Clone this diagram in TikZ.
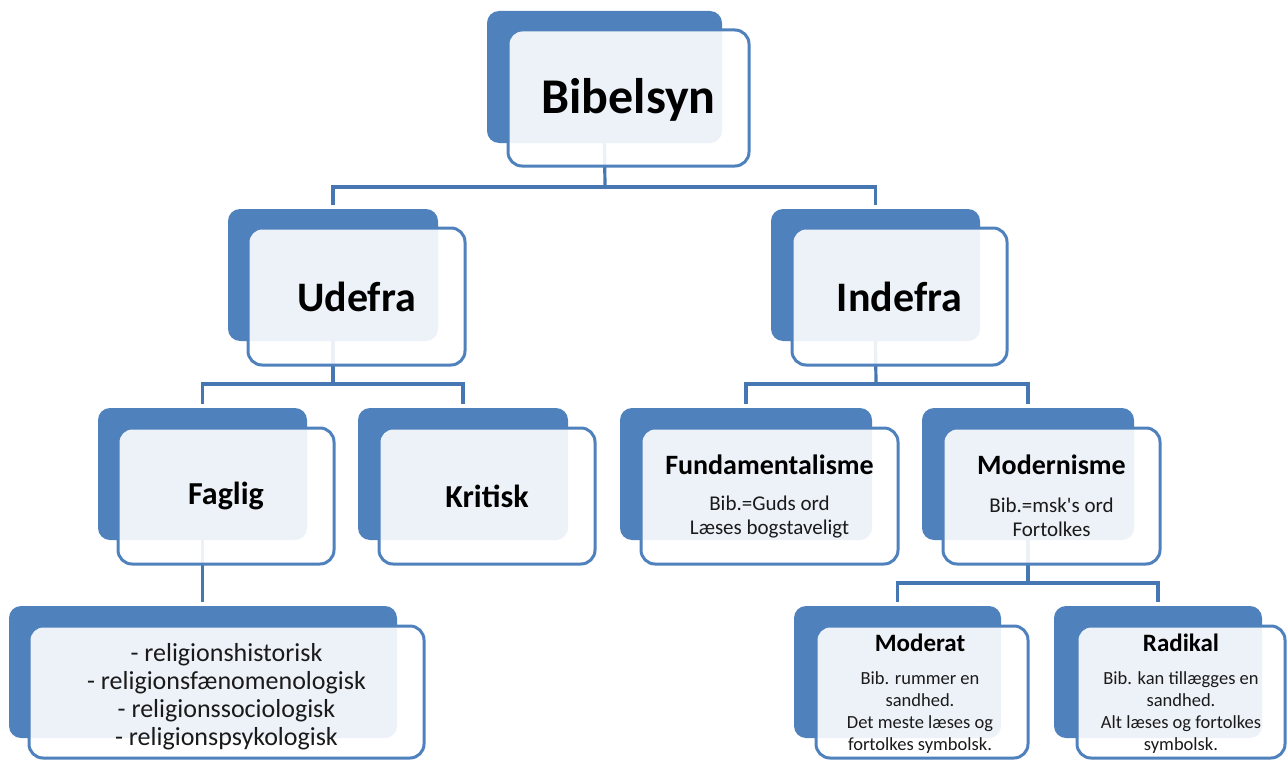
\documentclass[tikz,border=0pt]{standalone}
\usepackage{fontspec}
\setmainfont{Carlito}[Ligatures=TeXOff]
\usetikzlibrary{fit}
\definecolor{accent}{HTML}{4F81BD}
\definecolor{linec}{HTML}{4677B3}
\definecolor{bodytext}{HTML}{1A1A1A}
\tikzset{
  backbox/.style={fill=accent, draw=none, rounded corners=12pt, inner sep=0pt},
  frontbox/.style={fill=white, fill opacity=0.9, draw=accent, draw opacity=1, line width=3pt, rounded corners=14pt, inner sep=0pt},
  conn/.style={draw=linec, line width=3.2pt},
  bigtitle/.style={font=\fontsize{50}{60}\selectfont\bfseries, text=black, inner sep=0pt},
  midtitle/.style={font=\fontsize{42}{50}\selectfont\bfseries, text=black, inner sep=0pt},
  smalltitle/.style={font=\fontsize{32}{38}\selectfont\bfseries, text=black, inner sep=0pt},
  subtitle/.style={font=\fontsize{28}{32}\selectfont\bfseries, text=black, inner sep=0pt},
  leaftitle/.style={font=\fontsize{25}{30}\selectfont\bfseries, text=black, inner sep=0pt},
  bodyA/.style={font=\fontsize{21}{24}\selectfont, text=bodytext, align=center, inner sep=0pt},
  bodyL/.style={font=\fontsize{26}{28}\selectfont, text=bodytext, align=center, inner sep=0pt},
  bodyB/.style={font=\fontsize{18.5}{22}\selectfont, text=bodytext, align=center, inner sep=0pt},
}
\begin{document}
\begin{tikzpicture}[x=1pt,y=-1pt]
\useasboundingbox (0,0) rectangle (1288,760);
% back boxes
\node[backbox, fit={(487,11) (722,143)}] (B-b) {};
\node[backbox, fit={(228,209) (438,341)}] (U-b) {};
\node[backbox, fit={(771,209) (980,341)}] (I-b) {};
\node[backbox, fit={(98,408) (307,540)}] (F-b) {};
\node[backbox, fit={(358,408) (568,540)}] (K-b) {};
\node[backbox, fit={(620,408) (872,540)}] (Fu-b) {};
\node[backbox, fit={(922,408) (1134,540)}] (Mo-b) {};
\node[backbox, fit={(9,606) (397,738)}] (L-b) {};
\node[backbox, fit={(794,606) (1001,738)}] (Md-b) {};
\node[backbox, fit={(1054,606) (1262,738)}] (R-b) {};
% bus coordinates
\coordinate (busA) at (605,187);
\coordinate (busB) at (333,384);
\coordinate (busC) at (876,384);
\coordinate (busD) at (1028,583);
% connectors
\draw[conn] (B-b.south) -- (busA);
\draw[conn] ([yshift=4pt]U-b.north) |- (busA) -| ([yshift=4pt]I-b.north);
\draw[conn] (U-b.south) -- (busB);
\draw[conn] ([yshift=4pt]F-b.north) |- (busB) -| ([yshift=4pt]K-b.north);
\draw[conn] (I-b.south) -- (busC);
\draw[conn] ([yshift=4pt]Fu-b.north) |- (busC) -| ([yshift=4pt]Mo-b.north);
\draw[conn] (F-b.south) -- ([yshift=4pt]L-b.north -| F-b.south);
\draw[conn] (Mo-b.south) -- (busD);
\draw[conn] ([yshift=4pt]Md-b.north) |- (busD) -| ([yshift=4pt]R-b.north);
% front boxes
\node[frontbox, fit={(508,30) (749,166)}] (B-f) {};
\node[frontbox, fit={(248,228) (465,365)}] (U-f) {};
\node[frontbox, fit={(792,228) (1007,365)}] (I-f) {};
\node[frontbox, fit={(118,428) (334,564)}] (F-f) {};
\node[frontbox, fit={(379,428) (595,564)}] (K-f) {};
\node[frontbox, fit={(641,428) (898,564)}] (Fu-f) {};
\node[frontbox, fit={(943,428) (1160,564)}] (Mo-f) {};
\node[frontbox, fit={(29,626) (424,758)}] (L-f) {};
\node[frontbox, fit={(816,626) (1028,758)}] (Md-f) {};
\node[frontbox, fit={(1077,626) (1285,758)}] (R-f) {};
% texts
\node[bigtitle] (t-B) at ([yshift=-2pt]B-f.center) {Bibelsyn};
\node[midtitle] (t-U) at (U-f.center) {Udefra};
\node[midtitle] (t-I) at (I-f.center) {Indefra};
\node[smalltitle] (t-F) at (F-f.center) {Faglig};
\node[smalltitle] (t-K) at (K-f.center) {Kritisk};
\node[subtitle] (t-Fu) at (769.5,465) {Fundamentalisme};
\node[bodyA] (b-Fu) at (769.5,517) {Bib.=Guds ord\\Læses bogstaveligt};
\node[subtitle] (t-Mo) at (1051.5,465) {Modernisme};
\node[bodyA] (b-Mo) at (1051.5,517) {Bib.=msk's ord\\Fortolkes};
\node[bodyL] (b-L) at (226.5,697) {- religionshistorisk\\- religionsfænomenologisk\\- religionssociologisk\\- religionspsykologisk};
\node[leaftitle] (t-Md) at (920,643) {Moderat};
\node[bodyB] (b-Md) at (920,713) {Bib. rummer en\\sandhed.\\Det meste læses og\\fortolkes symbolsk.};
\node[leaftitle] (t-R) at (1181,643) {Radikal};
\node[bodyB] (b-R) at (1181,713) {Bib. kan tillægges en\\sandhed.\\Alt læses og fortolkes\\symbolsk.};
\end{tikzpicture}
\end{document}
